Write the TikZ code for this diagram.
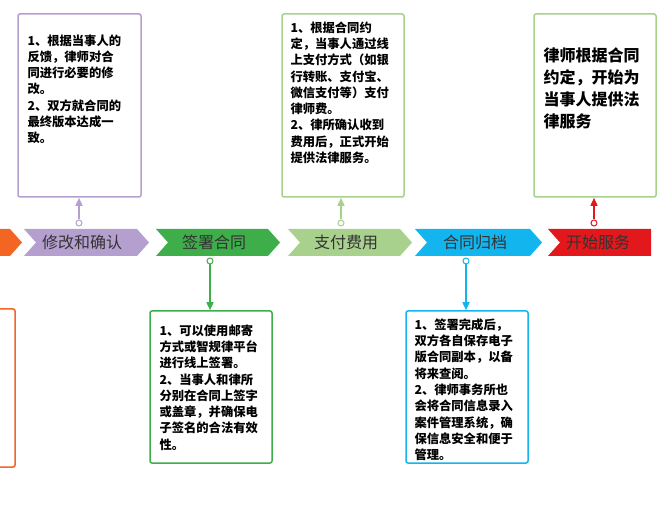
\documentclass[tikz,border=0pt]{standalone}
\usepackage{fontspec}
\setmainfont{Noto Sans CJK SC}
\usetikzlibrary{arrows.meta}
\definecolor{cpur}{HTML}{B59FCF}
\definecolor{cgrn}{HTML}{3DAE49}
\definecolor{clgr}{HTML}{A9D18E}
\definecolor{cblu}{HTML}{12B5EE}
\definecolor{cred}{HTML}{E2181C}
\definecolor{cora}{HTML}{F26522}
\definecolor{ctxt}{HTML}{333333}
\begin{document}
\begin{tikzpicture}[x=1pt,y=-1pt,
  box/.style={draw=#1,line width=1.5pt,rounded corners=2pt,fill=white,inner sep=0pt},
  btext/.style={font=\fontsize{12.3}{16.3}\selectfont\bfseries,align=left,anchor=north west,text=black},
  ctext/.style={font=\fontsize{16}{18}\selectfont,text=ctxt},
  dot/.style={circle,draw=#1,fill=white,line width=1pt,inner sep=0pt,minimum size=6pt},
  conn/.style={draw=#1,line width=1.5pt,-{Triangle[length=8pt,width=7pt]}}]
\useasboundingbox (0,0) rectangle (670,505);
% chevrons
\newcommand{\chev}[3]{\fill[#3] (#1,229) -- (#2-12,229) -- (#2,242.5) -- (#2-12,256) -- (#1,256) -- (#1+12,242.5) -- cycle;}
\chev{-20}{22}{cora}
\chev{24}{149}{cpur}
\chev{156}{280}{cgrn}
\chev{288}{412}{clgr}
\chev{415}{542}{cblu}
\fill[cred] (548,229) -- (651,229) -- (651,256) -- (548,256) -- (560,242.5) -- cycle;
\node[ctext] (c1) at (82,242.5) {修改和确认};
\node[ctext] (c2) at (214,242.5) {签署合同};
\node[ctext] (c3) at (346,242.5) {支付费用};
\node[ctext] (c4) at (475,242.5) {合同归档};
\node[ctext] (c5) at (598,242.5) {开始服务};
% boxes
\draw[box=cpur] (18,14) rectangle (141,197);
\node[btext] (t1) at (24,31) {1、根据当事人的\\反馈，律师对合\\同进行必要的修\\改。\\2、双方就合同的\\最终版本达成一\\致。};
\draw[box=clgr] (282,14) rectangle (404,197);
\node[btext] (t3) at (287,18) {1、根据合同约\\定，当事人通过线\\上支付方式（如银\\行转账、支付宝、\\微信支付等）支付\\律师费。\\2、律所确认收到\\费用后，正式开始\\提供法律服务。};
\draw[box=clgr] (534,14) rectangle (656,197);
\node[btext,font=\fontsize{16}{22}\selectfont\bfseries] (t5) at (540,44) {律师根据合同\\约定，开始为\\当事人提供法\\律服务};
\draw[box=cgrn] (150,311) rectangle (272,463);
\node[btext] (t2) at (156,321) {1、可以使用邮寄\\方式或智规律平台\\进行线上签署。\\2、当事人和律所\\分别在合同上签字\\或盖章，并确保电\\子签名的合法有效\\性。};
\draw[box=cblu] (406,311) rectangle (528,463);
\node[btext] (t4) at (411,315) {1、签署完成后，\\双方各自保存电子\\版合同副本，以备\\将来查阅。\\2、律师事务所也\\会将合同信息录入\\案件管理系统，确\\保信息安全和便于\\管理。};
\draw[box=cora] (-10,309) rectangle (15,467);
% connectors
\coordinate (b1) at (79,197.8);
\coordinate (b3) at (341,197.8);
\coordinate (b5) at (594,197.8);
\coordinate (b2) at (210,310.2);
\coordinate (b4) at (466,310.2);
\node[dot=cpur] (d1) at (79,223) {};
\node[dot=clgr] (d3) at (341,223) {};
\node[dot=cred] (d5) at (594,223) {};
\node[dot=cgrn] (d2) at (210,261) {};
\node[dot=cblu] (d4) at (466,261) {};
\draw[conn=cpur] (d1) -- (b1);
\draw[conn=clgr] (d3) -- (b3);
\draw[conn=cred] (d5) -- (b5);
\draw[conn=cgrn] (d2) -- (b2);
\draw[conn=cblu] (d4) -- (b4);
\end{tikzpicture}
\end{document}
